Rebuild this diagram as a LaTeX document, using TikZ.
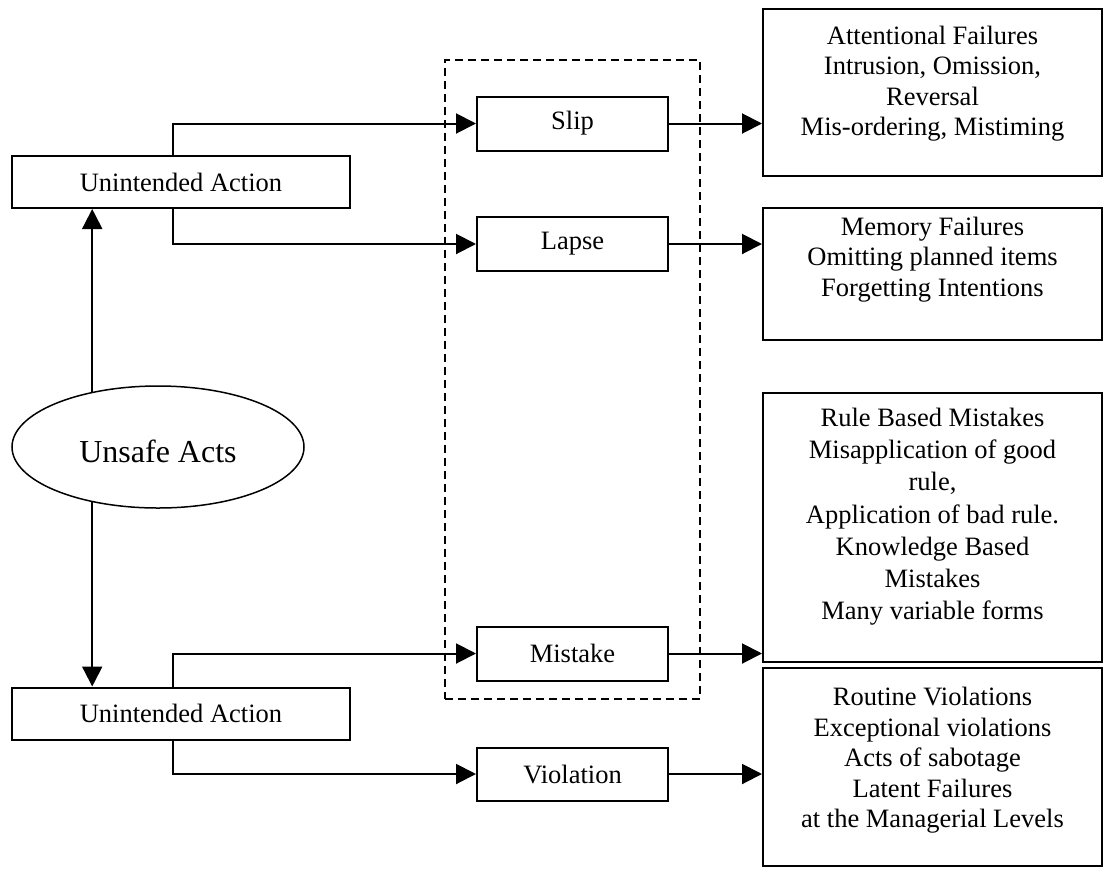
\documentclass[tikz,border=0pt]{standalone}
\usepackage{fontspec}
\setmainfont{Liberation Serif}
\usetikzlibrary{arrows.meta,shapes.geometric}
\begin{document}
\begin{tikzpicture}[x=1pt,y=-1pt,
  txt/.style={font=\fontsize{26.5}{30.5}\selectfont},
  box/.style={draw,line width=2pt,inner sep=0pt,txt},
  actbox/.style={box,minimum width=338pt,minimum height=52pt},
  kindbox/.style={box,minimum width=191pt,minimum height=54pt},
  outbox/.style={draw,line width=2pt,inner sep=0pt,minimum width=339pt},
  outtext/.style={txt,align=center,inner sep=0pt,anchor=north},
  arr/.style={line width=2pt,-{Triangle[length=20pt,width=20pt]}}
]
\useasboundingbox (0,0) rectangle (1103,871);

% dashed group around the error types
\node[draw,line width=2pt,dash pattern=on 8pt off 5pt,minimum width=255pt,minimum height=639pt] (grp) at (572.5,379.5) {};

% left column
\node[actbox] (ua1) at (181,182) {Unintended Action};
\node[draw,line width=1.5pt,ellipse,minimum width=292pt,minimum height=122pt,inner sep=0pt,
      text height=30pt,text depth=0pt,font=\fontsize{32}{36}\selectfont] (ell) at (158,447) {Unsafe Acts};
\node[actbox] (ua2) at (181,713.5) {Unintended Action};

% middle column
\node[kindbox] (slip) at (572.5,123.5) {Slip};
\node[kindbox] (lapse) at (572.5,244) {Lapse};
\node[kindbox] (mistake) at (572.5,653.5) {Mistake};
\node[kindbox,minimum height=53pt] (violation) at (572.5,774) {Violation};

% right column: description boxes
\node[outbox,minimum height=167pt] (r1) at (932.5,92.5) {};
\node[outtext] (r1t) at (932.5,25.5) {Attentional Failures\\Intrusion, Omission,\\Reversal\\Mis-ordering, Mistiming};

\node[outbox,minimum height=132pt] (r2) at (932.5,274) {};
\node[outtext] (r2t) at (932.5,216.5) {Memory Failures\\Omitting planned items\\Forgetting Intentions};

\node[outbox,minimum height=269pt] (r3) at (932.5,527.5) {};
\node[outtext,font=\fontsize{26.5}{32.2}\selectfont] (r3t) at (932.5,408) {Rule Based Mistakes\\Misapplication of good\\rule,\\Application of bad rule.\\Knowledge Based\\Mistakes\\Many variable forms};

\node[outbox,minimum height=198pt] (r4) at (932.5,767) {};
\node[outtext] (r4t) at (932.5,687) {Routine Violations\\Exceptional violations\\Acts of sabotage\\Latent Failures\\at the Managerial Levels};

% connectors
\draw[arr] (ell.140.5) -- (ell.140.5 |- ua1.south);
\draw[arr] (ell.-140.5) -- (ell.-140.5 |- ua2.north);

\draw[arr] ([xshift=-8pt]ua1.north) |- (slip.west);
\draw[arr] ([xshift=-8pt]ua1.south) |- (lapse.west);
\draw[arr] ([xshift=-8pt]ua2.north) |- (mistake.west);
\draw[arr] ([xshift=-8pt]ua2.south) |- (violation.west);

\draw[arr] (slip.east) -- (slip.east -| r1.west);
\draw[arr] (lapse.east) -- (lapse.east -| r2.west);
\draw[arr] (mistake.east) -- (mistake.east -| r3.west);
\draw[arr] (violation.east) -- (violation.east -| r4.west);
\end{tikzpicture}
\end{document}
